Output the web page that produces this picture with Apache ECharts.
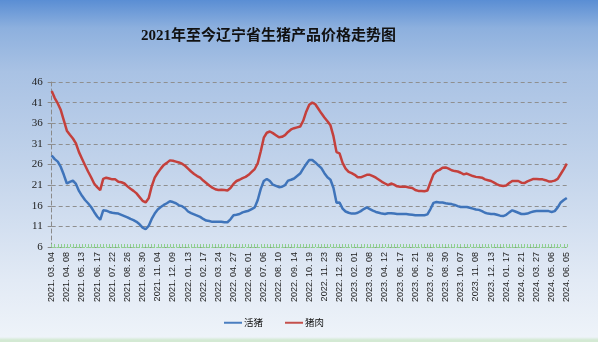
<!DOCTYPE html>
<html>
<head>
<meta charset="utf-8">
<script src="https://cdn.jsdelivr.net/npm/echarts@6/dist/echarts.min.js"></script>
<style>
  html, body { margin: 0; padding: 0; }
  #chart {
    width: 598px; height: 342px;
    background: linear-gradient(to bottom, #5a8ed4 0px, #8db0de 28px, #a9c2e4 72px, #c3d4eb 170px, #e2eaf5 280px, #eef3f9 337px, #d3e9d3 340px, #d3e9d3 342px);
  }
</style>
</head>
<body>
<div id="chart"></div>
<script>
// Weekly report dates (every fifth one is labelled on the axis)
const dates = [
  '2021.03.04','2021.03.11','2021.03.18','2021.03.25','2021.04.01',
  '2021.04.08','2021.04.15','2021.04.22','2021.04.29','2021.05.06',
  '2021.05.13','2021.05.20','2021.05.27','2021.06.03','2021.06.10',
  '2021.06.17','2021.06.24','2021.07.01','2021.07.08','2021.07.15',
  '2021.07.22','2021.07.29','2021.08.05','2021.08.12','2021.08.19',
  '2021.08.26','2021.09.02','2021.09.09','2021.09.16','2021.09.23',
  '2021.09.30','2021.10.07','2021.10.14','2021.10.21','2021.10.28',
  '2021.11.04','2021.11.11','2021.11.18','2021.11.25','2021.12.02',
  '2021.12.09','2021.12.16','2021.12.23','2021.12.30','2022.01.06',
  '2022.01.13','2022.01.20','2022.01.27','2022.02.03','2022.02.10',
  '2022.02.17','2022.02.24','2022.03.03','2022.03.10','2022.03.17',
  '2022.03.24','2022.03.31','2022.04.07','2022.04.14','2022.04.21',
  '2022.04.27','2022.05.04','2022.05.11','2022.05.18','2022.05.25',
  '2022.06.01','2022.06.08','2022.06.15','2022.06.22','2022.06.29',
  '2022.07.06','2022.07.13','2022.07.20','2022.07.27','2022.08.03',
  '2022.08.10','2022.08.17','2022.08.24','2022.08.31','2022.09.07',
  '2022.09.14','2022.09.21','2022.09.28','2022.10.05','2022.10.12',
  '2022.10.19','2022.10.26','2022.11.02','2022.11.09','2022.11.16',
  '2022.11.23','2022.11.30','2022.12.07','2022.12.14','2022.12.21',
  '2022.12.28','2023.01.04','2023.01.11','2023.01.18','2023.01.25',
  '2023.02.01','2023.02.08','2023.02.15','2023.02.22','2023.03.01',
  '2023.03.08','2023.03.15','2023.03.22','2023.03.29','2023.04.05',
  '2023.04.12','2023.04.19','2023.04.26','2023.05.04','2023.05.10',
  '2023.05.17','2023.05.24','2023.05.31','2023.06.07','2023.06.14',
  '2023.06.21','2023.06.28','2023.07.05','2023.07.12','2023.07.19',
  '2023.07.26','2023.08.02','2023.08.09','2023.08.16','2023.08.23',
  '2023.08.30','2023.09.06','2023.09.13','2023.09.20','2023.09.27',
  '2023.10.07','2023.10.11','2023.10.18','2023.10.25','2023.11.01',
  '2023.11.08','2023.11.15','2023.11.22','2023.11.29','2023.12.06',
  '2023.12.13','2023.12.20','2023.12.27','2024.01.03','2024.01.10',
  '2024.01.17','2024.01.24','2024.01.31','2024.02.07','2024.02.14',
  '2024.02.21','2024.02.28','2024.03.06','2024.03.13','2024.03.20',
  '2024.03.27','2024.04.03','2024.04.10','2024.04.17','2024.04.24',
  '2024.05.06','2024.05.10','2024.05.17','2024.05.24','2024.05.31',
  '2024.06.05'
];

// 活猪 (live hog) price, yuan/kg
const liveHog = [
  28.2,27.3,26.7,25.4,23.5, 21.4,21.8,22.1,21.3,19.6,
  18.4,17.4,16.6,15.7,14.5, 13.4,12.6,14.9,14.8,14.5,
  14.3,14.2,14.1,13.8,13.5, 13.2,12.8,12.5,12.1,11.5,
  10.7,10.3,11.1,12.8,14.1, 15.1,15.7,16.2,16.6,17.1,
  16.9,16.6,16.1,15.9,15.4, 14.6,14.2,13.9,13.6,13.3,
  12.8,12.4,12.3,12.1,12.1, 12.1,12.1,12.0,12.0,12.7,
  13.7,13.8,14.0,14.4,14.6, 14.8,15.2,15.6,17.4,20.1,
  22.0,22.5,22.0,21.1,20.8, 20.5,20.6,21.0,22.1,22.3,
  22.6,23.2,23.8,25.0,26.1, 27.1,27.1,26.5,25.8,25.1,
  23.9,22.9,22.3,20.3,16.7, 16.8,15.3,14.6,14.3,14.1,
  14.1,14.3,14.7,15.2,15.6, 15.2,14.8,14.5,14.3,14.1,
  14.0,14.2,14.2,14.1,14.0, 14.0,14.0,14.0,13.9,13.8,
  13.7,13.7,13.7,13.7,13.9, 15.2,16.7,16.9,16.8,16.8,
  16.6,16.5,16.4,16.2,15.9, 15.7,15.7,15.7,15.5,15.3,
  15.1,15.0,14.7,14.3,14.1, 14.0,14.0,13.8,13.6,13.5,
  13.8,14.4,14.9,14.6,14.3, 14.0,14.0,14.1,14.4,14.6,
  14.7,14.7,14.7,14.7,14.7, 14.5,14.7,15.6,16.8,17.4,
  17.9
];

// 猪肉 (pork) price, yuan/kg
const pork = [
  43.8,42.1,40.8,39.2,36.7, 34.2,33.2,32.3,31.1,29.0,
  27.4,25.8,24.3,22.9,21.4, 20.5,19.8,22.5,22.8,22.6,
  22.4,22.4,21.8,21.7,21.4, 20.7,20.1,19.6,19.0,18.1,
  17.2,16.8,17.8,20.7,22.8, 24.0,25.0,25.9,26.4,27.0,
  26.9,26.7,26.5,26.2,25.7, 25.0,24.3,23.7,23.2,22.8,
  22.1,21.5,20.9,20.4,20.0, 19.8,19.9,19.8,19.7,20.3,
  21.3,22.0,22.3,22.7,23.0, 23.5,24.2,24.9,26.3,29.2,
  32.5,33.7,34.0,33.6,33.1, 32.6,32.7,33.1,33.9,34.5,
  34.8,35.0,35.2,36.6,38.8, 40.5,41.0,40.6,39.5,38.4,
  37.4,36.5,35.5,32.8,29.0, 28.7,26.4,25.0,24.2,23.9,
  23.5,22.9,22.9,23.2,23.5, 23.5,23.2,22.8,22.3,21.8,
  21.4,21.0,21.4,21.1,20.7, 20.6,20.6,20.6,20.4,20.3,
  19.8,19.6,19.6,19.5,19.7, 21.7,23.6,24.4,24.7,25.2,
  25.3,25.0,24.6,24.4,24.3, 24.0,23.6,23.8,23.5,23.2,
  23.0,22.9,22.8,22.4,22.2, 22.0,21.6,21.2,20.9,20.8,
  20.9,21.5,22.0,22.0,22.0, 21.6,21.5,21.9,22.2,22.5,
  22.5,22.4,22.4,22.2,21.9, 21.9,22.1,22.5,23.7,24.9,
  26.2
];

const yTicks = { min: 6, max: 46, step: 5 };

const chart = echarts.init(document.getElementById('chart'), null, { renderer: 'canvas' });

chart.setOption({
  backgroundColor: 'transparent',
  animation: false,
  title: {
    text: '2021年至今辽宁省生猪产品价格走势图',
    left: 136,
    top: 24,
    textStyle: {
      fontFamily: '"Liberation Serif", "Noto Sans CJK SC", serif',
      fontSize: 15,
      fontWeight: 'bold',
      color: '#111'
    }
  },
  legend: {
    left: 219,
    top: 313,
    itemWidth: 18,
    itemHeight: 8,
    itemGap: 22,
    icon: 'path://M0,3.5L18,3.5L18,5.5L0,5.5Z',
    textStyle: {
      fontFamily: '"Noto Sans CJK SC", sans-serif',
      fontSize: 9.5,
      color: '#111',
      padding: [0, 0, 0, -3]
    },
    data: ['活猪', '猪肉']
  },
  grid: { left: 51.7, right: 31.2, top: 82, bottom: 95 },
  xAxis: {
    type: 'category',
    data: dates,
    boundaryGap: false,
    axisLine: { lineStyle: { color: '#8fd08f', width: 1, type: [3, 2] } },
    axisTick: { show: true, interval: 0, inside: true, length: 3, lineStyle: { color: '#8fd08f' } },
    axisLabel: {
      interval: 4,
      rotate: 90,
      margin: 5,
      fontFamily: '"Liberation Sans", sans-serif',
      fontSize: 9,
      color: '#222',
      formatter: v => v.replace(/\./g, '. ')
    },
    splitLine: { show: false }
  },
  yAxis: {
    type: 'value',
    min: yTicks.min,
    max: yTicks.max,
    interval: yTicks.step,
    axisLine: { show: true, lineStyle: { color: '#8a8a8a', type: [4, 3] } },
    axisTick: { show: true, length: 4, lineStyle: { color: '#8a8a8a' } },
    axisLabel: {
      margin: 9,
      fontFamily: '"Liberation Serif", serif',
      fontSize: 11,
      color: '#222'
    },
    splitLine: { show: true, lineStyle: { color: '#8f8f8f', type: [4, 3] } }
  },
  series: [
    {
      name: '活猪',
      type: 'line',
      data: liveHog,
      symbol: 'none',
      smooth: false,
      lineStyle: { color: '#3f74ba', width: 2.5 },
      itemStyle: { color: '#4a7ec0' }
    },
    {
      name: '猪肉',
      type: 'line',
      data: pork,
      symbol: 'none',
      smooth: false,
      lineStyle: { color: '#c4403c', width: 2.5 },
      itemStyle: { color: '#c4504c' }
    }
  ]
});
</script>
</body>
</html>
